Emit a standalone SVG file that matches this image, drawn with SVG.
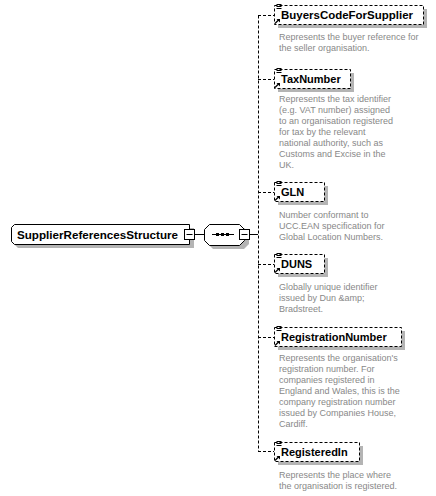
<svg xmlns="http://www.w3.org/2000/svg" width="436" height="496" viewBox="0 0 436 496">
<defs>
<style>
.bg{fill:#fff}
.sh{fill:#b4b4b4}
.box{fill:#fff;stroke:#000;stroke-width:1}
.dbox{fill:#fff;stroke:#000;stroke-width:1;stroke-dasharray:3 2}
.conn{fill:none;stroke:#000;stroke-width:1;stroke-dasharray:3 2}
.solid{fill:none;stroke:#000;stroke-width:1}
.name{font-family:"Liberation Sans",Arial,sans-serif;font-size:11px;font-weight:bold;fill:#000}
.desc{font-family:"Liberation Sans",Arial,sans-serif;font-size:9px;fill:#888}
</style>
<g id="refIcon">
<path d="M1.5,0.5h5M1.5,2.5h5M1.5,4.5h5" stroke="#000" stroke-width="1" fill="none"/>
</g>
<g id="arrIcon">
<path d="M1,5.5L5,1.5" stroke="#000" stroke-width="1.2"/>
<path d="M2.5,1L6,1L6,4.5Z" fill="#000"/>
</g>
</defs>
<rect class="bg" width="436" height="496"/>

<g id="connectors">
<path class="solid" d="M195,234.5H204"/>
<path class="solid" d="M250,234.5H258"/>
<path class="conn" d="M258.5,15.5V451.5"/>
<path class="conn" d="M258,15.5H274"/>
<path class="conn" d="M258,79.5H274"/>
<path class="conn" d="M258,192.5H274"/>
<path class="conn" d="M258,264.5H274"/>
<path class="conn" d="M258,337.5H274"/>
<path class="conn" d="M258,451.5H274"/>
</g>

<g id="SupplierReferencesStructure">
<path class="sh" d="M18,228H194V248H18L15,245V231Z"/>
<path class="box" d="M14.5,224.5H189.5V244.5H14.5L11.5,241.5V227.5Z"/>
<text class="name" x="17" y="238.5" textLength="161" lengthAdjust="spacingAndGlyphs">SupplierReferencesStructure</text>
<rect class="box" x="184.5" y="229.5" width="10" height="10"/>
<path class="solid" d="M186.5,234.5H192.5"/>
</g>

<g id="sequence">
<path class="sh" d="M213,228H244L249,233V244L244,249H213L208,244V233Z"/>
<path class="box" d="M209.5,224.5H239.5L244.5,229.5V240.5L239.5,245.5H209.5L204.5,240.5V229.5Z"/>
<path class="solid" d="M212,234.5H234"/>
<rect x="216" y="233" width="3" height="3" fill="#000"/>
<rect x="221" y="233" width="3" height="3" fill="#000"/>
<rect x="226" y="233" width="3" height="3" fill="#000"/>
<rect class="box" x="239.5" y="229.5" width="10" height="10"/>
<path class="solid" d="M241.5,234.5H247.5"/>
</g>

<g id="BuyersCodeForSupplier">
<rect class="sh" x="278" y="9" width="149" height="19"/>
<rect class="dbox" x="274.5" y="5.5" width="149" height="19"/>
<use href="#refIcon" x="275" y="4"/>
<use href="#arrIcon" x="274" y="18"/>
<text class="name" x="281" y="19" textLength="132" lengthAdjust="spacingAndGlyphs">BuyersCodeForSupplier</text>
<text class="desc" x="279" y="40">Represents the buyer reference for</text>
<text class="desc" x="279" y="51">the seller organisation.</text>
</g>

<g id="TaxNumber">
<rect class="sh" x="278" y="73" width="76" height="19"/>
<rect class="dbox" x="274.5" y="69.5" width="76" height="19"/>
<use href="#refIcon" x="275" y="68"/>
<use href="#arrIcon" x="274" y="82"/>
<text class="name" x="281" y="83">TaxNumber</text>
<text class="desc" x="279" y="102">Represents the tax identifier</text>
<text class="desc" x="279" y="113">(e.g. VAT number) assigned</text>
<text class="desc" x="279" y="124">to an organisation registered</text>
<text class="desc" x="279" y="135">for tax by the relevant</text>
<text class="desc" x="279" y="146">national authority, such as</text>
<text class="desc" x="279" y="157">Customs and Excise in the</text>
<text class="desc" x="279" y="168">UK.</text>
</g>

<g id="GLN">
<rect class="sh" x="278" y="186" width="50" height="19"/>
<rect class="dbox" x="274.5" y="182.5" width="50" height="19"/>
<use href="#refIcon" x="275" y="181"/>
<use href="#arrIcon" x="274" y="195"/>
<text class="name" x="281" y="196">GLN</text>
<text class="desc" x="279" y="218">Number conformant to</text>
<text class="desc" x="279" y="229">UCC.EAN specification for</text>
<text class="desc" x="279" y="240">Global Location Numbers.</text>
</g>

<g id="DUNS">
<rect class="sh" x="278" y="258" width="50" height="19"/>
<rect class="dbox" x="274.5" y="254.5" width="50" height="19"/>
<use href="#refIcon" x="275" y="253"/>
<use href="#arrIcon" x="274" y="267"/>
<text class="name" x="281" y="268">DUNS</text>
<text class="desc" x="279" y="290">Globally unique identifier</text>
<text class="desc" x="279" y="301">issued by Dun &amp;amp;</text>
<text class="desc" x="279" y="312">Bradstreet.</text>
</g>

<g id="RegistrationNumber">
<rect class="sh" x="278" y="331" width="127" height="19"/>
<rect class="dbox" x="274.5" y="327.5" width="127" height="19"/>
<use href="#refIcon" x="275" y="326"/>
<use href="#arrIcon" x="274" y="340"/>
<text class="name" x="281" y="341">RegistrationNumber</text>
<text class="desc" x="279" y="361">Represents the organisation's</text>
<text class="desc" x="279" y="372">registration number. For</text>
<text class="desc" x="279" y="383">companies registered in</text>
<text class="desc" x="279" y="394">England and Wales, this is the</text>
<text class="desc" x="279" y="405">company registration number</text>
<text class="desc" x="279" y="416">issued by Companies House,</text>
<text class="desc" x="279" y="427">Cardiff.</text>
</g>

<g id="RegisteredIn">
<rect class="sh" x="278" y="446" width="85" height="19"/>
<rect class="dbox" x="274.5" y="442.5" width="85" height="19"/>
<use href="#refIcon" x="275" y="441"/>
<use href="#arrIcon" x="274" y="455"/>
<text class="name" x="281" y="456">RegisteredIn</text>
<text class="desc" x="279" y="478">Represents the place where</text>
<text class="desc" x="279" y="489">the organisation is registered.</text>
</g>
</svg>
